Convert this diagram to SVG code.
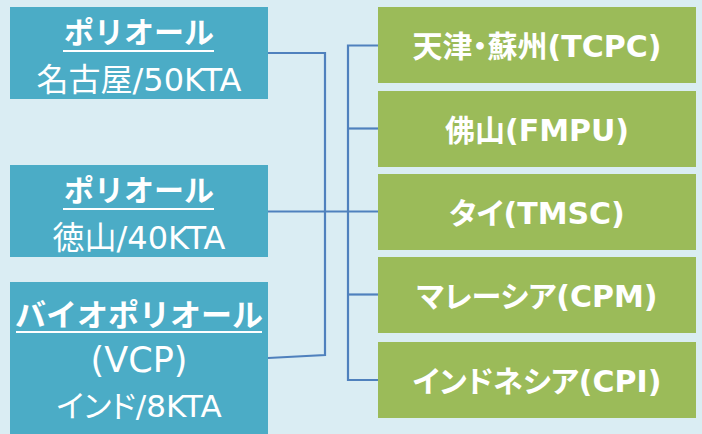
<svg xmlns="http://www.w3.org/2000/svg" width="702" height="434" viewBox="0 0 702 434">
<style>
.bg{fill:#DAEDF3}
.lb{fill:#4BACC6}
.rb{fill:#9BBB59}
.t{font-family:"DejaVu Sans","Noto Sans CJK JP",sans-serif;fill:#FFFFFF;text-anchor:middle}
.b{font-weight:bold}
.p{font-feature-settings:"palt" 1}
.ul{fill:#FFFFFF}
.c{fill:none;stroke:#4F81BD;stroke-width:2.2}
</style>
<rect class="bg" x="0" y="0" width="702" height="434"/>
<g id="connectors">
<path class="c" d="M268,53 H325 V355 L268,358"/>
<path class="c" d="M268,211.5 H378"/>
<path class="c" d="M378,45.5 H348 V380 H378"/>
<path class="c" d="M348,128.5 H378"/>
<path class="c" d="M348,294.5 H378"/>
</g>
<g id="src-nagoya">
<rect class="lb" x="10" y="7" width="258" height="92"/>
<text class="t b" x="139" y="43" font-size="30">ポリオール</text>
<rect class="ul" x="63" y="50" width="151" height="2"/>
<text class="t" x="139" y="91" font-size="32">名古屋/50KTA</text>
</g>
<g id="src-tokuyama">
<rect class="lb" x="10" y="165" width="258" height="92"/>
<text class="t b" x="139" y="201" font-size="30">ポリオール</text>
<rect class="ul" x="63" y="208" width="151" height="2"/>
<text class="t" x="139" y="249" font-size="32">徳山/40KTA</text>
</g>
<g id="src-vcp">
<rect class="lb" x="10" y="282" width="258" height="152"/>
<text class="t b" x="139" y="326" font-size="31">バイオポリオール</text>
<rect class="ul" x="16" y="331" width="246" height="2"/>
<text class="t" x="139" y="372" font-size="35">(VCP)</text>
<text class="t p" x="139" y="417" font-size="31">インド/8KTA</text>
</g>
<g id="dst-tcpc">
<rect class="rb" x="378" y="7" width="318" height="76"/>
<text class="t b p" x="537" y="57" font-size="30">天津・蘇州(TCPC)</text>
</g>
<g id="dst-fmpu">
<rect class="rb" x="378" y="91" width="318" height="76"/>
<text class="t b" x="537" y="140.5" font-size="30">佛山(FMPU)</text>
</g>
<g id="dst-tmsc">
<rect class="rb" x="378" y="174" width="318" height="76"/>
<text class="t b p" x="537" y="223.5" font-size="30">タイ(TMSC)</text>
</g>
<g id="dst-cpm">
<rect class="rb" x="378" y="257" width="318" height="76"/>
<text class="t b p" x="537" y="307" font-size="30">マレーシア(CPM)</text>
</g>
<g id="dst-cpi">
<rect class="rb" x="378" y="342" width="318" height="76"/>
<text class="t b p" x="537" y="392" font-size="30">インドネシア(CPI)</text>
</g>
</svg>
